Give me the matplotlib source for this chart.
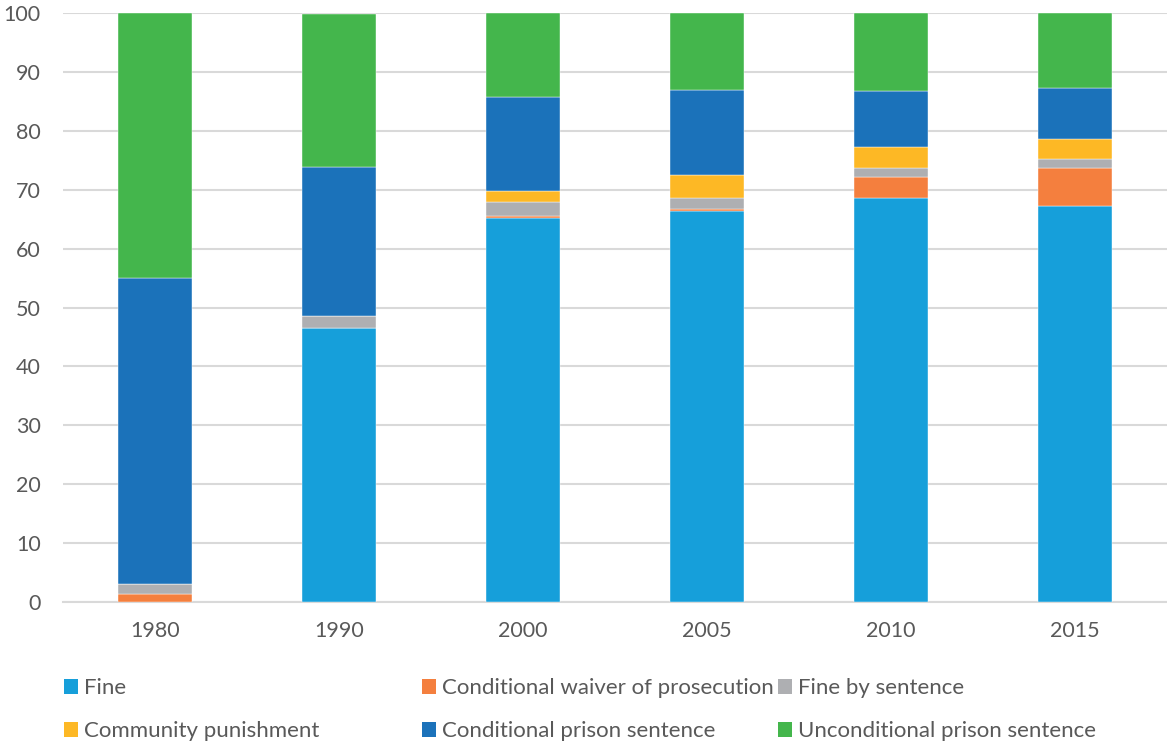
import matplotlib

matplotlib.use('Agg')

import matplotlib.pyplot as plt
from matplotlib.patches import Patch
import numpy as np

years = ['1980', '1990', '2000', '2005', '2010', '2015']

# percentage shares per sentence type, stacked bottom to top
fine = [0.0, 46.6, 65.2, 66.3, 68.6, 67.3]
waiver = [1.4, 0.0, 0.3, 0.5, 3.6, 6.4]
fine_by_sentence = [1.7, 2.0, 2.4, 1.8, 1.5, 1.5]
community = [0.0, 0.0, 1.9, 3.9, 3.6, 3.4]
conditional_prison = [51.9, 25.3, 15.9, 14.4, 9.5, 8.7]
unconditional_prison = [45.0, 26.0, 14.3, 13.1, 13.2, 12.7]

series = [
    ('Fine', fine, '#169FDA'),
    ('Conditional waiver of prosecution', waiver, '#F47F3E'),
    ('Fine by sentence', fine_by_sentence, '#AEAFB2'),
    ('Community punishment', community, '#FDB825'),
    ('Conditional prison sentence', conditional_prison, '#1B72BA'),
    ('Unconditional prison sentence', unconditional_prison, '#44B64C'),
]

text_color = '#595959'
grid_color = '#D9D9D9'

plt.rcParams['font.family'] = ['Lato', 'DejaVu Sans']

fig = plt.figure(figsize=(11.67, 7.47), dpi=100)
ax = fig.add_axes([63 / 1167, 1 - 602 / 747, 1 - 63 / 1167, (602 - 13) / 747])

x = np.arange(len(years))
bottom = np.zeros(len(years))
handles = {}
for name, values, color in series:
    ax.bar(x, values, width=0.4, bottom=bottom, color=color,
           edgecolor='white', linewidth=0.3, zorder=3)
    bottom += np.array(values)
    handles[name] = Patch(facecolor=color, edgecolor='none')

ax.set_xlim(-0.5, len(years) - 0.5)
ax.set_ylim(0, 100)
ax.set_yticks(range(0, 101, 10))
ax.set_xticks(x)
ax.set_xticklabels(years)
ax.yaxis.grid(True, color=grid_color, linewidth=1.5, zorder=0)
ax.set_axisbelow(True)

for side in ['top', 'right', 'left']:
    ax.spines[side].set_visible(False)
ax.spines['bottom'].set_color(grid_color)
ax.spines['bottom'].set_linewidth(1.5)
ax.tick_params(axis='both', length=0, labelsize=15.5, labelcolor=text_color)
ax.tick_params(axis='y', pad=16)
ax.tick_params(axis='x', pad=14)

# legend in three manually placed columns
columns = [
    (64, ['Fine', 'Community punishment']),
    (422, ['Conditional waiver of prosecution', 'Conditional prison sentence']),
    (778, ['Fine by sentence', 'Unconditional prison sentence']),
]
for x_px, names in columns:
    leg = fig.legend([handles[n] for n in names], names,
                     loc='upper left', bbox_to_anchor=(x_px / 1167, 1 - 678 / 747),
                     frameon=False, fontsize=16, handlelength=0.64, handleheight=0.64,
                     handletextpad=0.25, labelspacing=1.05, borderaxespad=0, borderpad=0)
    for t in leg.get_texts():
        t.set_color(text_color)

fig.savefig('out.png', dpi=100)
